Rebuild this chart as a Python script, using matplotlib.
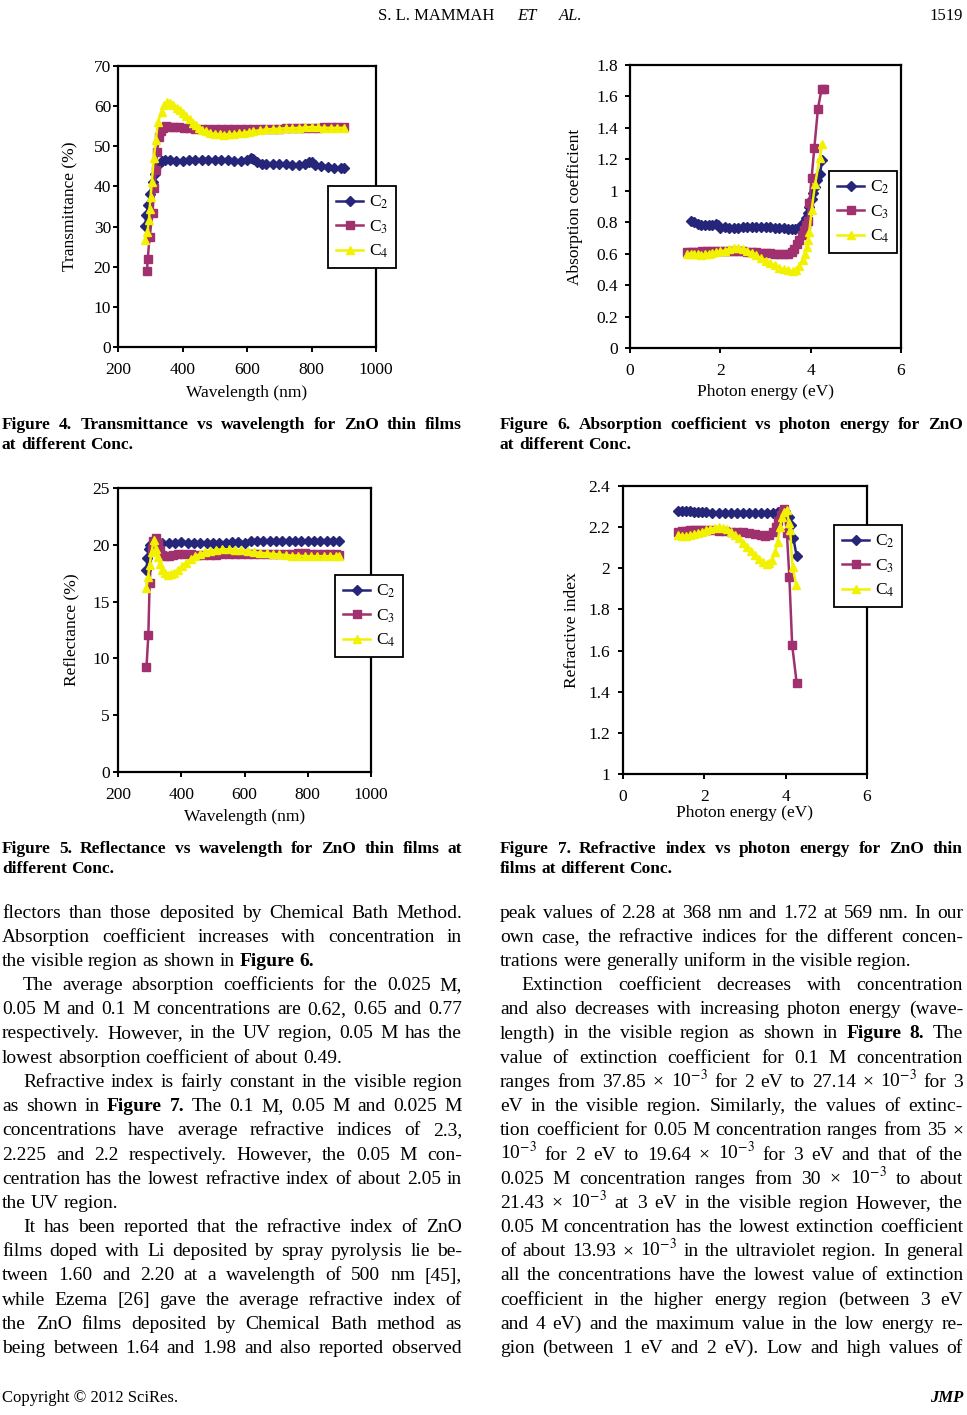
import matplotlib
matplotlib.use('Agg')
import matplotlib.pyplot as plt
from matplotlib.ticker import FuncFormatter

plt.rcParams['font.family'] = ['Liberation Serif', 'DejaVu Serif']
plt.rcParams['mathtext.fontset'] = 'stix'

# ---------------- data ----------------
# Figure 4: transmittance (%) vs wavelength (nm)
wl_T2 = [284, 288, 293, 300, 308, 316, 324, 335, 345, 360, 380, 400, 420, 440, 460, 480, 500, 520,
         540, 560, 580, 600, 612, 620, 632, 645, 660, 680, 700, 720, 740, 760, 780, 792, 800, 812,
         830, 850, 870, 890, 900]
T2 = [30.2, 32.8, 35.3, 38.2, 41.0, 43.2, 45.3, 46.3, 46.7, 46.6, 46.4, 46.4, 46.5, 46.6, 46.6, 46.6,
      46.6, 46.7, 46.6, 46.4, 46.3, 46.5, 47.0, 46.8, 46.0, 45.5, 45.5, 45.5, 45.5, 45.5, 45.4, 45.4,
      45.6, 46.1, 46.0, 45.3, 45.0, 44.9, 44.7, 44.6, 44.6]
wl_T3 = [290, 292, 298, 307, 312, 317, 321, 327, 333, 340, 350, 360, 375, 390, 405, 420, 440, 460,
         480, 500, 520, 540, 560, 580, 600, 620, 640, 660, 680, 700, 720, 740, 760, 780, 800, 820,
         840, 860, 880, 900]
T3 = [18.9, 21.8, 27.4, 33.3, 39.5, 44.0, 48.5, 52.2, 53.8, 54.6, 55.0, 54.9, 54.8, 54.7, 54.6, 54.5,
      54.4, 54.3, 54.3, 54.4, 54.3, 54.2, 54.2, 54.2, 54.3, 54.4, 54.3, 54.3, 54.4, 54.4, 54.5, 54.5,
      54.6, 54.6, 54.6, 54.6, 54.7, 54.7, 54.8, 54.8]
wl_T4 = [283, 291, 296, 298, 301, 305, 311, 317, 324, 335, 342, 352, 362, 372, 382, 392, 402, 412,
         422, 432, 442, 452, 462, 472, 485, 500, 515, 530, 545, 560, 575, 590, 605, 620, 640, 660,
         680, 700, 720, 740, 760, 780, 800, 820, 840, 860, 880, 900]
T4 = [26.6, 28.7, 31.6, 34.5, 37.4, 41.2, 47.0, 51.5, 56.0, 58.6, 60.3, 61.1, 60.8, 60.2, 59.6, 59.0,
      58.3, 57.5, 56.7, 55.9, 55.2, 54.6, 54.1, 53.7, 53.3, 53.1, 53.0, 52.9, 53.0, 53.1, 53.2, 53.4,
      53.6, 53.8, 54.0, 54.2, 54.3, 54.4, 54.5, 54.5, 54.6, 54.7, 54.8, 54.7, 54.6, 54.6, 54.6, 54.6]

# Figure 5: reflectance (%) vs wavelength (nm)
wl_R2 = [290, 293, 297, 302, 310, 325, 340, 360, 380, 400, 420, 440, 460, 480, 500, 520, 540, 560,
         580, 600, 620, 640, 660, 680, 700, 720, 740, 760, 780, 800, 820, 840, 860, 880, 900]
R2 = [17.8, 18.8, 19.6, 20.0, 20.2, 20.25, 20.2, 20.2, 20.2, 20.25, 20.2, 20.2, 20.2, 20.2, 20.2,
      20.2, 20.2, 20.25, 20.25, 20.2, 20.3, 20.3, 20.3, 20.3, 20.3, 20.3, 20.3, 20.3, 20.3, 20.3,
      20.3, 20.3, 20.3, 20.3, 20.3]
wl_R3 = [290, 296, 300, 306, 312, 319, 325, 332, 340, 348, 360, 375, 390, 410, 430, 450, 470, 490,
         510, 530, 550, 570, 590, 610, 630, 650, 670, 690, 710, 730, 750, 770, 790, 810, 830, 850,
         870, 890, 900]
R3 = [9.2, 12.1, 16.6, 19.6, 20.3, 20.6, 20.2, 19.5, 19.1, 19.0, 19.05, 19.1, 19.15, 19.15, 19.15,
      19.1, 19.1, 19.1, 19.1, 19.15, 19.2, 19.2, 19.2, 19.15, 19.15, 19.2, 19.2, 19.2, 19.2, 19.2,
      19.2, 19.25, 19.25, 19.2, 19.2, 19.2, 19.2, 19.15, 19.1]
wl_R4 = [290, 295, 300, 306, 313, 321, 327, 333, 340, 348, 358, 368, 378, 390, 402, 415, 430, 445,
         460, 475, 490, 510, 530, 550, 570, 590, 610, 630, 650, 670, 690, 710, 730, 750, 770, 790,
         810, 830, 850, 870, 890, 900]
R4 = [16.2, 17.2, 18.2, 19.4, 20.4, 19.6, 18.9, 18.3, 17.8, 17.5, 17.35, 17.4, 17.55, 17.8, 18.1,
      18.4, 18.75, 19.0, 19.2, 19.35, 19.45, 19.55, 19.6, 19.6, 19.55, 19.5, 19.45, 19.35, 19.3,
      19.25, 19.2, 19.15, 19.1, 19.05, 19.05, 19.0, 19.0, 19.0, 19.0, 19.0, 19.0, 19.0]

# Figure 6: absorption coefficient vs photon energy (eV)
E_A2 = [1.34, 1.42, 1.5, 1.58, 1.66, 1.74, 1.82, 1.9, 1.95, 2.0, 2.1, 2.2, 2.3, 2.4, 2.5, 2.6, 2.7,
        2.8, 2.9, 3.0, 3.1, 3.2, 3.3, 3.4, 3.5, 3.58, 3.66, 3.74, 3.8, 3.86, 3.9, 3.94, 3.97, 4.02,
        4.06, 4.1, 4.15, 4.2, 4.26]
A2 = [0.81, 0.80, 0.79, 0.785, 0.78, 0.78, 0.785, 0.79, 0.78, 0.765, 0.77, 0.765, 0.765, 0.765,
      0.77, 0.77, 0.77, 0.77, 0.77, 0.77, 0.77, 0.765, 0.765, 0.765, 0.76, 0.755, 0.76, 0.77, 0.785,
      0.80, 0.83, 0.86, 0.90, 0.945, 0.985, 1.025, 1.07, 1.106, 1.195]
E_A3 = [1.26, 1.34, 1.42, 1.5, 1.6, 1.7, 1.8, 1.9, 2.0, 2.1, 2.2, 2.3, 2.4, 2.5, 2.6, 2.7, 2.8, 2.9,
        3.0, 3.1, 3.2, 3.3, 3.4, 3.5, 3.58, 3.64, 3.7, 3.75, 3.8, 3.85, 3.9, 3.93, 3.97, 4.02, 4.08,
        4.16, 4.24, 4.29]
A3 = [0.61, 0.61, 0.61, 0.61, 0.615, 0.615, 0.615, 0.62, 0.62, 0.62, 0.62, 0.62, 0.62, 0.615, 0.61,
      0.61, 0.61, 0.605, 0.605, 0.605, 0.6, 0.6, 0.6, 0.6, 0.61, 0.63, 0.66, 0.69, 0.72, 0.75, 0.78,
      0.81, 0.92, 1.08, 1.27, 1.52, 1.645, 1.65]
E_A4 = [1.26, 1.34, 1.42, 1.5, 1.58, 1.66, 1.74, 1.82, 1.9, 2.0, 2.1, 2.2, 2.3, 2.4, 2.5, 2.6, 2.7,
        2.8, 2.9, 3.0, 3.1, 3.2, 3.3, 3.4, 3.5, 3.6, 3.68, 3.75, 3.82, 3.87, 3.91, 3.94, 3.97, 4.02,
        4.1, 4.2, 4.26]
A4 = [0.60, 0.60, 0.595, 0.595, 0.59, 0.595, 0.60, 0.605, 0.61, 0.615, 0.62, 0.63, 0.635, 0.635,
      0.63, 0.62, 0.605, 0.59, 0.57, 0.555, 0.54, 0.525, 0.51, 0.50, 0.495, 0.49, 0.495, 0.52, 0.56,
      0.60, 0.64, 0.685, 0.74, 0.877, 1.046, 1.206, 1.30]

# Figure 7: refractive index vs photon energy (eV)
E_N2 = [1.36, 1.45, 1.55, 1.65, 1.75, 1.85, 1.95, 2.05, 2.2, 2.35, 2.5, 2.65, 2.8, 2.95, 3.1, 3.25,
        3.4, 3.55, 3.7, 3.8, 3.9, 3.99, 4.07, 4.13, 4.19, 4.27]
N2 = [2.28, 2.28, 2.28, 2.278, 2.276, 2.275, 2.274, 2.272, 2.271, 2.27, 2.27, 2.27, 2.27, 2.27, 2.27,
      2.269, 2.268, 2.268, 2.27, 2.272, 2.276, 2.28, 2.25, 2.21, 2.145, 2.06]
E_N3 = [1.36, 1.45, 1.55, 1.65, 1.75, 1.85, 1.95, 2.05, 2.2, 2.35, 2.5, 2.65, 2.8, 2.95, 3.1, 3.25,
        3.4, 3.5, 3.6, 3.68, 3.75, 3.82, 3.88, 3.93, 3.97, 4.03, 4.09, 4.16, 4.27]
N3 = [2.178, 2.18, 2.182, 2.184, 2.185, 2.185, 2.186, 2.186, 2.185, 2.183, 2.18, 2.178, 2.176, 2.174,
      2.172, 2.168, 2.162, 2.158, 2.16, 2.175, 2.2, 2.23, 2.26, 2.28, 2.287, 2.17, 1.96, 1.626, 1.443]
E_N4 = [1.36, 1.45, 1.55, 1.65, 1.75, 1.85, 1.95, 2.05, 2.15, 2.25, 2.35, 2.45, 2.55, 2.65, 2.75,
        2.85, 2.95, 3.05, 3.15, 3.25, 3.35, 3.45, 3.53, 3.6, 3.67, 3.74, 3.8, 3.86, 3.92, 3.97, 4.03,
        4.08, 4.11, 4.17, 4.26]
N4 = [2.16, 2.158, 2.158, 2.16, 2.165, 2.17, 2.178, 2.185, 2.192, 2.198, 2.2, 2.197, 2.19, 2.178,
      2.162, 2.145, 2.125, 2.105, 2.085, 2.065, 2.045, 2.03, 2.023, 2.025, 2.04, 2.08, 2.13, 2.2,
      2.25, 2.275, 2.282, 2.22, 2.185, 2.005, 1.918]

wl_ticks = [200, 400, 600, 800, 1000]
ev_ticks = [0, 2, 4, 6]
T_ticks = [0, 10, 20, 30, 40, 50, 60, 70]
R_ticks = [0, 5, 10, 15, 20, 25]
A_ticks = [0, 0.2, 0.4, 0.6, 0.8, 1, 1.2, 1.4, 1.6, 1.8]
N_ticks = [1, 1.2, 1.4, 1.6, 1.8, 2, 2.2, 2.4]
series_labels = ['C$_2$', 'C$_3$', 'C$_4$']

# ---------------- page text ----------------
left_col = [
    "flectors than those deposited by Chemical Bath Method.",
    "Absorption coefficient increases with concentration in",
    "the visible region as shown in *Figure *6.",
    "The average absorption coefficients for the 0.025 M,",
    "0.05 M and 0.1 M concentrations are 0.62, 0.65 and 0.77",
    "respectively. However, in the UV region, 0.05 M has the",
    "lowest absorption coefficient of about 0.49.",
    "Refractive index is fairly constant in the visible region",
    "as shown in *Figure *7. The 0.1 M, 0.05 M and 0.025 M",
    "concentrations have average refractive indices of 2.3,",
    "2.225 and 2.2 respectively. However, the 0.05 M con-",
    "centration has the lowest refractive index of about 2.05 in",
    "the UV region.",
    "It has been reported that the refractive index of ZnO",
    "films doped with Li deposited by spray pyrolysis lie be-",
    "tween 1.60 and 2.20 at a wavelength of 500 nm [45],",
    "while Ezema [26] gave the average refractive index of",
    "the ZnO films deposited by Chemical Bath method as",
    "being between 1.64 and 1.98 and also reported observed",
]
left_indent = [3, 7, 13]
left_last = [2, 6, 12]

right_col = [
    "peak values of 2.28 at 368 nm and 1.72 at 569 nm. In our",
    "own case, the refractive indices for the different concen-",
    "trations were generally uniform in the visible region.",
    "Extinction coefficient decreases with concentration",
    "and also decreases with increasing photon energy (wave-",
    "length) in the visible region as shown in *Figure *8. The",
    "value of extinction coefficient for 0.1 M concentration",
    "ranges from 37.85 × 10$^{-3}$ for 2 eV to 27.14 × 10$^{-3}$ for 3",
    "eV in the visible region. Similarly, the values of extinc-",
    "tion coefficient for 0.05 M concentration ranges from 35 ×",
    "10$^{-3}$ for 2 eV to 19.64 × 10$^{-3}$ for 3 eV and that of the",
    "0.025 M concentration ranges from 30 × 10$^{-3}$ to about",
    "21.43 × 10$^{-3}$ at 3 eV in the visible region However, the",
    "0.05 M concentration has the lowest extinction coefficient",
    "of about 13.93 × 10$^{-3}$ in the ultraviolet region. In general",
    "all the concentrations have the lowest value of extinction",
    "coefficient in the higher energy region (between 3 eV",
    "and 4 eV) and the maximum value in the low energy re-",
    "gion (between 1 eV and 2 eV). Low and high values of",
]
right_indent = [3]
right_last = [2]

captions = [
    (2, 462, 424, ["Figure 4. Transmittance vs wavelength for ZnO thin films", "at different Conc."]),
    (500, 963, 424, ["Figure 6. Absorption coefficient vs photon energy for ZnO", "at different Conc."]),
    (2, 462, 848, ["Figure 5. Reflectance vs wavelength for ZnO thin films at", "different Conc."]),
    (500, 963, 848, ["Figure 7. Refractive index vs photon energy for ZnO thin", "films at different Conc."]),
]

# ---------------- figure ----------------
W, H = 967, 1415
fig = plt.figure(figsize=(W / 100, H / 100), dpi=100)
renderer = fig.canvas.get_renderer()


def fx(px):
    return px / W


def fy(py):
    return 1 - py / H


def text_line(x0, x1, yb, line, size, bold=False, justify=True):
    words = line.split()
    arts = []
    for w in words:
        b = bold or w.startswith('*')
        arts.append(fig.text(0, fy(yb), w.lstrip('*'), fontsize=size,
                             fontweight='bold' if b else 'normal',
                             ha='left', va='baseline'))
    widths = [a.get_window_extent(renderer).width for a in arts]
    probe1 = fig.text(0, 0, 'x x', fontsize=size, fontweight='bold' if bold else 'normal')
    probe2 = fig.text(0, 0, 'xx', fontsize=size, fontweight='bold' if bold else 'normal')
    gap = probe1.get_window_extent(renderer).width - probe2.get_window_extent(renderer).width
    probe1.remove()
    probe2.remove()
    if justify and len(arts) > 1:
        gap = (x1 - x0 - sum(widths)) / (len(arts) - 1)
    x = x0
    for a, w in zip(arts, widths):
        a.set_x(fx(x))
        x += w + gap


colors = ['#25257a', '#a0306e', '#f2f200']
markers = ['D', 's', '^']


def chart(box, xs, ys, xlim, xticks, ylim, yticks, xlabel, ylabel, ylab_x, xlab_y, ypad, leg):
    l, t, r, b = box
    ax = fig.add_axes([fx(l), fy(b), (r - l) / W, (b - t) / H])
    for x, y, c, m, lab in zip(xs, ys, colors, markers, series_labels):
        ax.plot(x, y, color=c, marker=m, ms=5.6, lw=1.8, mec=c, mfc=c, label=lab)
    ax.set_xlim(*xlim)
    ax.set_ylim(*ylim)
    ax.set_xticks(xticks)
    ax.set_yticks(yticks)
    ax.yaxis.set_major_formatter(FuncFormatter(lambda v, p: f'{v:g}'))
    for s in ax.spines.values():
        s.set_linewidth(1.6)
    ax.tick_params(axis='both', direction='out', length=3.5, width=1.4, labelsize=12.5)
    ax.tick_params(axis='x', pad=7)
    ax.tick_params(axis='y', pad=ypad)
    ax.set_xlabel(xlabel, fontsize=12.5, va='center')
    ax.set_ylabel(ylabel, fontsize=12.5, va='center')
    ax.xaxis.set_label_coords(0.5, -(xlab_y - b) / (b - t))
    ax.yaxis.set_label_coords(-(l - ylab_x) / (r - l), 0.5)
    lg = ax.legend(loc='center', bbox_to_anchor=(fx(leg[0]), fy(leg[1])),
                   bbox_transform=fig.transFigure, fontsize=12.5, frameon=True,
                   fancybox=False, framealpha=1, edgecolor='black', handlelength=1.6,
                   handletextpad=0.3, borderpad=0.45, labelspacing=0.4, borderaxespad=0)
    lg.get_frame().set_linewidth(1.3)
    return ax


chart((118, 66, 376, 347), [wl_T2, wl_T3, wl_T4], [T2, T3, T4], (200, 1000), wl_ticks,
      (0, 70), T_ticks, 'Wavelength (nm)', 'Transmittance (%)', 70, 393, 1.5, (362, 227))
chart((630, 65, 901, 348), [E_A2, E_A3, E_A4], [A2, A3, A4], (0, 6), ev_ticks,
      (0, 1.8), A_ticks, 'Photon energy (eV)', 'Absorption coefficient', 575, 392, 5, (863, 212))
chart((118, 488, 371, 772), [wl_R2, wl_R3, wl_R4], [R2, R3, R4], (200, 1000), wl_ticks,
      (0, 25), R_ticks, 'Wavelength (nm)', 'Reflectance (%)', 71, 817, 2.5, (369, 616))
chart((623, 486, 867, 774), [E_N2, E_N3, E_N4], [N2, N3, N4], (0, 6), ev_ticks,
      (1, 2.4), N_ticks, 'Photon energy (eV)', 'Refractive index', 572, 813, 6, (868, 566))

# header
fig.text(fx(378), fy(20), 'S. L. MAMMAH', fontsize=12, ha='left', va='baseline')
fig.text(fx(517), fy(20), 'ET', fontsize=12, style='italic', ha='left', va='baseline')
fig.text(fx(559), fy(20), 'AL.', fontsize=12, style='italic', ha='left', va='baseline')
fig.text(fx(963), fy(20), '1519', fontsize=12, ha='right', va='baseline')

# captions
for x0, x1, y0, lines in captions:
    text_line(x0, x1, y0 + 5, lines[0], 12.5, bold=True, justify=True)
    text_line(x0, x1, y0 + 25, lines[1], 12.5, bold=True, justify=False)

# body text
for col, x0, x1, ind, last in [(left_col, 2, 462, left_indent, left_last),
                               (right_col, 500, 963, right_indent, right_last)]:
    for i, line in enumerate(col):
        start = x0 + (21 if i in ind else 0)
        text_line(start, x1, 917.5 + 24.2 * i, line, 14, justify=i not in last)

# footer
fig.text(fx(2), fy(1402), 'Copyright © 2012 SciRes.', fontsize=12, ha='left', va='baseline')
fig.text(fx(963), fy(1402), 'JMP', fontsize=12, fontweight='bold', style='italic',
         ha='right', va='baseline')

fig.savefig('out.png', dpi=100)
